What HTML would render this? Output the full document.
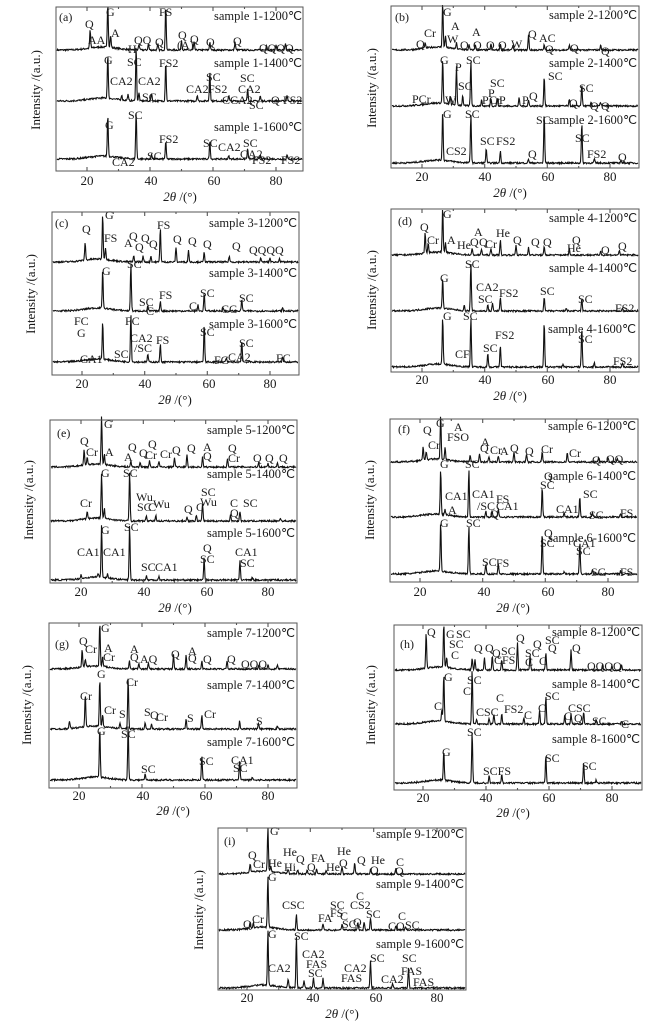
<!DOCTYPE html>
<html><head><meta charset="utf-8"><style>
html,body{margin:0;padding:0;background:#fff;}
svg{display:block;font-family:"Liberation Serif",serif;}
text{fill:#1a1a1a;font-size:12px;}
.s{text-anchor:end;font-size:12.5px;}
.t{text-anchor:middle;font-size:13px;}
.y{text-anchor:middle;font-size:13px;font-family:"Liberation Serif",serif;}
</style></head><body>
<svg id="f" width="651" height="1028" viewBox="0 0 651 1028" xmlns="http://www.w3.org/2000/svg">
<g id="traces" fill="none" stroke="#111" stroke-width="1.1"></g>
<g fill="none" stroke="#555" stroke-width="1">
<rect x="56" y="7" width="247" height="164"/>
<rect x="391" y="6" width="248" height="162"/>
<rect x="52" y="212" width="247" height="163"/>
<rect x="391" y="209" width="248" height="163"/>
<rect x="50" y="420" width="247" height="163"/>
<rect x="390" y="419" width="248" height="163"/>
<rect x="49" y="623" width="248" height="165"/>
<rect x="394" y="625" width="248" height="165"/>
<rect x="218" y="828" width="248" height="162"/>
</g>
<text class="t" x="87" y="185">20</text><text class="t" x="151" y="185">40</text><text class="t" x="214" y="185">60</text><text class="t" x="276" y="185">80</text>
<text class="t" x="180" y="201"><tspan font-style="italic">2θ</tspan> /(°)</text>
<text class="y" transform="translate(40,90) rotate(-90)">Intensity /(a.u.)</text>
<text class="t" x="422" y="181">20</text><text class="t" x="485" y="181">40</text><text class="t" x="548" y="181">60</text><text class="t" x="610" y="181">80</text>
<text class="t" x="510" y="197"><tspan font-style="italic">2θ</tspan> /(°)</text>
<text class="y" transform="translate(376,88) rotate(-90)">Intensity /(a.u.)</text>
<text class="t" x="82" y="388">20</text><text class="t" x="145" y="388">40</text><text class="t" x="209" y="388">60</text><text class="t" x="270" y="388">80</text>
<text class="t" x="175" y="404"><tspan font-style="italic">2θ</tspan> /(°)</text>
<text class="y" transform="translate(35,294) rotate(-90)">Intensity /(a.u.)</text>
<text class="t" x="422" y="384">20</text><text class="t" x="485" y="384">40</text><text class="t" x="548" y="384">60</text><text class="t" x="610" y="384">80</text>
<text class="t" x="510" y="400"><tspan font-style="italic">2θ</tspan> /(°)</text>
<text class="y" transform="translate(376,290) rotate(-90)">Intensity /(a.u.)</text>
<text class="t" x="81" y="596">20</text><text class="t" x="144" y="596">40</text><text class="t" x="207" y="596">60</text><text class="t" x="268" y="596">80</text>
<text class="t" x="175" y="612"><tspan font-style="italic">2θ</tspan> /(°)</text>
<text class="y" transform="translate(33,500) rotate(-90)">Intensity /(a.u.)</text>
<text class="t" x="420" y="596">20</text><text class="t" x="484" y="596">40</text><text class="t" x="548" y="596">60</text><text class="t" x="608" y="596">80</text>
<text class="t" x="513" y="612"><tspan font-style="italic">2θ</tspan> /(°)</text>
<text class="y" transform="translate(374,500) rotate(-90)">Intensity /(a.u.)</text>
<text class="t" x="79" y="800">20</text><text class="t" x="143" y="800">40</text><text class="t" x="206" y="800">60</text><text class="t" x="268" y="800">80</text>
<text class="t" x="173" y="815"><tspan font-style="italic">2θ</tspan> /(°)</text>
<text class="y" transform="translate(31,705) rotate(-90)">Intensity /(a.u.)</text>
<text class="t" x="423" y="802">20</text><text class="t" x="486" y="802">40</text><text class="t" x="549" y="802">60</text><text class="t" x="612" y="802">80</text>
<text class="t" x="513" y="817"><tspan font-style="italic">2θ</tspan> /(°)</text>
<text class="y" transform="translate(375,705) rotate(-90)">Intensity /(a.u.)</text>
<text class="t" x="247" y="1002">20</text><text class="t" x="313" y="1002">40</text><text class="t" x="376" y="1002">60</text><text class="t" x="437" y="1002">80</text>
<text class="t" x="342" y="1018"><tspan font-style="italic">2θ</tspan> /(°)</text>
<text class="y" transform="translate(203,910) rotate(-90)">Intensity /(a.u.)</text>

<text x="59" y="21">(a)</text><text x="106" y="16">G</text><text x="159" y="16">FS</text>
<text class="s" x="302" y="20">sample 1-1200℃</text>
<text x="85" y="28">Q</text><text x="88" y="44">AA</text><text x="111" y="37">A</text><text x="128" y="53">H</text><text x="134" y="44">QQ</text><text x="155" y="46">Q</text><text x="178" y="39">Q</text><text x="177" y="49">(A)</text><text x="190" y="43">Q</text><text x="206" y="46">Q</text><text x="233" y="45">Q</text><text x="259" y="52">QQQQ</text>
<text x="104" y="64">G</text><text x="127" y="66">SC</text><text x="159" y="67">FS2</text>
<text class="s" x="302" y="67">sample 1-1400℃</text>
<text x="110" y="85">CA2</text><text x="138" y="85">CA2</text><text x="142" y="101">SC</text><text x="206" y="81">SC</text><text x="186" y="93">CA2</text><text x="208" y="93">FS2</text><text x="240" y="82">SC</text><text x="238" y="93">CA2</text><text x="222" y="104">C</text><text x="230" y="104">CA2</text><text x="249" y="109">SC</text><text x="271" y="104">Q</text><text x="283" y="104">FS2</text>
<text x="128" y="119">SC</text><text x="105" y="129">G</text>
<text class="s" x="302" y="131">sample 1-1600℃</text>
<text x="159" y="143">FS2</text><text x="203" y="147">SC</text><text x="218" y="151">CA2</text><text x="243" y="147">SC</text><text x="240" y="158">CA2</text><text x="252" y="164">FS2</text><text x="281" y="164">FS2</text><text x="147" y="160">SC</text><text x="112" y="166">CA2</text>

<text x="395" y="21">(b)</text><text x="443" y="16">G</text>
<text class="s" x="637" y="19">sample 2-1200℃</text>
<text x="424" y="37">Cr</text><text x="451" y="30">A</text><text x="447" y="43">W</text><text x="472" y="36">A</text><text x="416" y="48">Q</text><text x="460" y="49">Q</text><text x="473" y="49">Q</text><text x="486" y="49">Q</text><text x="498" y="49">Q</text><text x="511" y="48">W</text><text x="528" y="38">Q</text><text x="539" y="42">AC</text><text x="545" y="53">Q</text><text x="570" y="52">Q</text><text x="601" y="55">Q</text>
<text x="440" y="64">G</text><text x="466" y="64">SC</text>
<text class="s" x="637" y="67">sample 2-1400℃</text>
<text x="455" y="71">P</text><text x="458" y="90">SC</text><text x="490" y="87">SC</text><text x="548" y="80">SC</text><text x="579" y="92">SC</text><text x="412" y="103">PCr</text><text x="445" y="104">W</text><text x="482" y="104">P</text><text x="488" y="97">P</text><text x="489" y="104">Cr</text><text x="499" y="104">P</text><text x="522" y="104">P</text><text x="529" y="100">Q</text><text x="569" y="107">Q</text><text x="590" y="110">Q</text><text x="601" y="110">Q</text>
<text x="443" y="118">G</text><text x="465" y="118">SC</text>
<text x="536" y="124">SC</text><text class="s" x="637" y="124">sample 2-1600℃</text>
<text x="480" y="145">SC</text><text x="496" y="145">FS2</text><text x="446" y="155">CS2</text><text x="528" y="158">Q</text><text x="575" y="142">SC</text><text x="587" y="158">FS2</text><text x="618" y="161">Q</text>

<text x="55" y="227">(c)</text><text x="105" y="219">G</text>
<text class="s" x="297" y="227">sample 3-1200℃</text>
<text x="82" y="233">Q</text><text x="104" y="242">FS</text><text x="157" y="229">FS</text><text x="124" y="247">A</text><text x="129" y="240">Q</text><text x="141" y="242">Q</text><text x="135" y="251">Q</text><text x="149" y="248">Q</text><text x="173" y="243">Q</text><text x="188" y="245">Q</text><text x="203" y="248">Q</text><text x="232" y="250">Q</text><text x="249" y="254">QQQQ</text>
<text x="102" y="275">G</text><text x="127" y="268">SC</text>
<text class="s" x="297" y="277">sample 3-1400℃</text>
<text x="139" y="306">SC</text><text x="146" y="315">C</text><text x="159" y="299">FS</text><text x="189" y="310">C</text><text x="200" y="297">SC</text><text x="221" y="313">CC</text><text x="239" y="302">SC</text>
<text x="74" y="325">FC</text><text x="77" y="337">G</text><text x="125" y="325">FC</text>
<text class="s" x="297" y="328">sample 3-1600℃</text>
<text x="130" y="342">CA2</text><text x="134" y="352">/SC</text><text x="156" y="344">FS</text><text x="200" y="336">SC</text><text x="239" y="347">SC</text><text x="228" y="361">CA2</text><text x="214" y="364">FC</text><text x="276" y="362">FC</text><text x="114" y="358">SC</text><text x="80" y="363">CA1</text>

<text x="398" y="225">(d)</text><text x="443" y="218">G</text>
<text class="s" x="637" y="222">sample 4-1200℃</text>
<text x="420" y="231">Q</text><text x="427" y="244">Cr</text><text x="447" y="244">A</text><text x="457" y="249">He</text><text x="474" y="236">A</text><text x="470" y="246">Q</text><text x="479" y="246">Q</text><text x="485" y="248">Cr</text><text x="496" y="237">He</text><text x="513" y="244">Q</text><text x="531" y="246">Q</text><text x="543" y="246">Q</text><text x="572" y="244">Q</text><text x="567" y="252">He</text><text x="601" y="254">Q</text><text x="618" y="250">Q</text>
<text x="465" y="268">SC</text><text class="s" x="637" y="272">sample 4-1400℃</text>
<text x="440" y="282">G</text><text x="476" y="291">CA2</text><text x="499" y="297">FS2</text><text x="478" y="303">SC</text><text x="540" y="295">SC</text><text x="578" y="303">SC</text><text x="615" y="312">FS2</text>
<text x="443" y="320">G</text><text x="463" y="320">SC</text>
<text class="s" x="636" y="333">sample 4-1600℃</text>
<text x="495" y="339">FS2</text><text x="578" y="343">SC</text><text x="483" y="352">SC</text><text x="455" y="358">CF</text><text x="613" y="365">FS2</text>

<text x="57" y="437">(e)</text><text x="104" y="428">G</text>
<text class="s" x="295" y="434">sample 5-1200℃</text>
<text x="80" y="445">Q</text><text x="86" y="456">Cr</text><text x="105" y="456">A</text><text x="124" y="461">A</text><text x="128" y="451">Q</text><text x="139" y="457">Q</text><text x="148" y="448">Q</text><text x="145" y="459">Cr</text><text x="160" y="458">Cr</text><text x="172" y="454">Q</text><text x="187" y="452">Q</text><text x="203" y="451">A</text><text x="203" y="460">Q</text><text x="228" y="452">Q</text><text x="228" y="462">Cr</text><text x="253" y="462">Q</text><text x="265" y="462">Q</text><text x="279" y="462">Q</text>
<text x="101" y="477">G</text><text x="123" y="477">SC</text>
<text class="s" x="295" y="478">sample 5-1400℃</text>
<text x="80" y="507">Cr</text><text x="136" y="501">Wu</text><text x="137" y="511">SC</text><text x="153" y="508">Wu</text><text x="148" y="511">C</text><text x="184" y="513">Q</text><text x="196" y="511">C</text><text x="201" y="496">SC</text><text x="200" y="506">Wu</text><text x="230" y="507">C</text><text x="230" y="517">Q</text><text x="243" y="507">SC</text>
<text x="101" y="534">G</text><text x="124" y="531">SC</text>
<text class="s" x="295" y="537">sample 5-1600℃</text>
<text x="77" y="556">CA1</text><text x="103" y="556">CA1</text><text x="203" y="552">Q</text><text x="200" y="563">SC</text><text x="235" y="556">CA1</text><text x="240" y="567">SC</text><text x="141" y="571">SC</text><text x="155" y="571">CA1</text>

<text x="398" y="433">(f)</text><text x="436" y="427">G</text>
<text class="s" x="636" y="430">sample 6-1200℃</text>
<text x="423" y="434">Q</text><text x="428" y="449">Cr</text><text x="454" y="431">A</text><text x="447" y="441">FSO</text><text x="481" y="446">A</text><text x="480" y="452">Q</text><text x="490" y="454">Cr</text><text x="500" y="455">A</text><text x="510" y="452">Q</text><text x="525" y="455">Q</text><text x="541" y="453">Cr</text><text x="569" y="457">Cr</text><text x="592" y="464">Q</text><text x="606" y="463">QQ</text>
<text x="440" y="468">G</text><text x="465" y="468">SC</text><text x="544" y="480">Q</text>
<text class="s" x="636" y="480">sample 6-1400℃</text>
<text x="540" y="489">SC</text><text x="445" y="500">CA1</text><text x="472" y="498">CA1</text><text x="496" y="503">FS</text><text x="477" y="510">/SC</text><text x="496" y="510">CA1</text><text x="448" y="514">A</text><text x="490" y="518">Q</text><text x="583" y="498">SC</text><text x="556" y="513">CA1</text><text x="589" y="519">SC</text><text x="620" y="517">FS</text>
<text x="440" y="527">G</text><text x="466" y="527">SC</text><text x="544" y="537">Q</text>
<text class="s" x="636" y="542">sample 6-1600℃</text>
<text x="540" y="547">SC</text><text x="573" y="547">CA1</text><text x="576" y="555">SC</text><text x="482" y="566">SC</text><text x="496" y="567">FS</text><text x="591" y="576">SC</text><text x="620" y="576">FS</text>

<text x="55" y="648">(g)</text><text x="101" y="632">G</text>
<text class="s" x="295" y="637">sample 7-1200℃</text>
<text x="79" y="645">Q</text><text x="85" y="653">Cr</text><text x="104" y="652">A</text><text x="103" y="661">Cr</text><text x="130" y="653">A</text><text x="130" y="661">Q</text><text x="140" y="663">AQ</text><text x="171" y="658">Q</text><text x="188" y="655">A</text><text x="188" y="662">Q</text><text x="203" y="663">Q</text><text x="227" y="663">Q</text><text x="241" y="668">QQQ</text>
<text x="97" y="678">G</text><text x="126" y="686">Cr</text>
<text class="s" x="295" y="689">sample 7-1400℃</text>
<text x="80" y="700">Cr</text><text x="104" y="714">Cr</text><text x="119" y="718">S</text><text x="144" y="716">S</text><text x="150" y="719">Q</text><text x="156" y="721">Cr</text><text x="187" y="722">S</text><text x="204" y="718">Cr</text><text x="256" y="725">S</text>
<text x="97" y="735">G</text><text x="121" y="738">SC</text>
<text class="s" x="295" y="746">sample 7-1600℃</text>
<text x="199" y="765">SC</text><text x="231" y="764">CA1</text><text x="233" y="772">SC</text><text x="141" y="773">SC</text>

<text x="400" y="648">(h)</text><text x="427" y="636">Q</text><text x="446" y="638">G</text><text x="456" y="638">SC</text>
<text class="s" x="640" y="636">sample 8-1200℃</text>
<text x="449" y="648">SC</text><text x="451" y="659">C</text><text x="474" y="652">Q</text><text x="485" y="652">Q</text><text x="492" y="657">Q</text><text x="501" y="655">SC</text><text x="494" y="664">CFS</text><text x="516" y="642">Q</text><text x="533" y="648">Q</text><text x="545" y="644">SC</text><text x="525" y="657">SC</text><text x="525" y="666">C</text><text x="539" y="665">C</text><text x="548" y="652">Q</text><text x="572" y="652">Q</text><text x="587" y="670">QQQQ</text>
<text x="444" y="681">G</text><text x="467" y="684">SC</text>
<text class="s" x="640" y="688">sample 8-1400℃</text>
<text x="463" y="695">C</text><text x="434" y="710">C</text><text x="476" y="716">CSC</text><text x="496" y="702">C</text><text x="504" y="713">FS2</text><text x="545" y="700">SC</text><text x="538" y="712">C</text><text x="524" y="719">C</text><text x="568" y="712">CSC</text><text x="564" y="720">C</text><text x="574" y="722">Q</text><text x="592" y="725">SC</text><text x="621" y="728">C</text>
<text x="467" y="736">SC</text>
<text class="s" x="640" y="743">sample 8-1600℃</text>
<text x="442" y="756">G</text><text x="545" y="762">SC</text><text x="483" y="775">SCFS</text><text x="582" y="770">SC</text>

<text x="224" y="845">(i)</text><text x="270" y="835">G</text>
<text class="s" x="464" y="838">sample 9-1200℃</text>
<text x="248" y="859">Q</text><text x="253" y="868">Cr</text><text x="268" y="867">He</text><text x="283" y="856">He</text><text x="284" y="871">Hi</text><text x="296" y="863">Q</text><text x="307" y="871">Q</text><text x="311" y="862">FA</text><text x="326" y="871">He</text><text x="337" y="855">He</text><text x="339" y="867">Q</text><text x="357" y="864">Q</text><text x="371" y="864">He</text><text x="370" y="874">Q</text><text x="396" y="866">C</text><text x="395" y="875">Q</text>
<text x="268" y="881">G</text>
<text class="s" x="464" y="888">sample 9-1400℃</text>
<text x="282" y="909">CSC</text><text x="330" y="909">SC</text><text x="330" y="917">FS</text><text x="356" y="900">C</text><text x="350" y="909">CS2</text><text x="340" y="920">C</text><text x="366" y="918">SC</text><text x="318" y="922">FA</text><text x="342" y="928">SC</text><text x="353" y="926">Q</text><text x="243" y="928">Q</text><text x="252" y="923">Cr</text><text x="398" y="920">C</text><text x="388" y="930">CO</text><text x="405" y="929">SC</text>
<text x="268" y="938">G</text><text x="294" y="940">SC</text>
<text class="s" x="464" y="948">sample 9-1600℃</text>
<text x="302" y="958">CA2</text><text x="306" y="968">FAS</text><text x="268" y="972">CA2</text><text x="308" y="977">SC</text><text x="370" y="962">SC</text><text x="344" y="972">CA2</text><text x="341" y="982">FAS</text><text x="402" y="962">SC</text><text x="401" y="975">FAS</text><text x="381" y="983">CA2</text><text x="413" y="986">FAS</text>
</svg>
<script>
var P=[
{x:56,y:7,w:247,h:164,t20:87,t80:276,tr:[
[50,[[21,18],[26.6,45],[27.5,12],[36.5,6],[39.5,6],[42.5,6],[45,45],[50,10],[54,8],[59,8],[67,8],[77,5],[80,5],[83,6]]],
[101,[[26.6,45],[35.6,55],[31,5],[33,6],[36.5,8],[40.5,8],[45,40],[59,30],[55,6],[65,6],[71,12],[75,5],[83.5,6]]],
[159,[[26.6,42],[35.6,48],[40.5,5],[45,18],[59,18],[65,3],[71,10],[75,4],[83.5,4]]]]},
{x:391,y:6,w:248,h:162,t20:422,t80:610,tr:[
[50,[[21,5],[26.6,45],[27.5,12],[31,6],[35,5],[37,6],[42,6],[45,6],[49,5],[54,15],[59,5],[67,5],[77,5]]],
[106,[[26.6,45],[31,38],[35.6,45],[33,10],[29,8],[39,6],[42,8],[44,8],[51,8],[54,6],[59,30],[67,6],[71,22],[74,4],[77,4]]],
[163,[[26.6,50],[35.6,50],[40.5,15],[45,12],[54,4],[59,50],[71,40],[75,4],[83.5,3]]]]},
{x:52,y:212,w:247,h:163,t20:82,t80:270,tr:[
[262,[[21,18],[26.6,45],[27.5,12],[36.5,6],[39.5,6],[42,6],[45,35],[50,15],[54,12],[59,10],[67,6],[77,4],[80,4],[83,4]]],
[311,[[26.6,38],[35.6,48],[41,5],[45,10],[57,6],[59,18],[65,4],[71,12],[84,3]]],
[362,[[26.6,38],[35.6,48],[41,8],[45,18],[59,38],[66,4],[71,22],[84,5]]]]},
{x:391,y:209,w:248,h:163,t20:422,t80:610,tr:[
[255,[[21,20],[22,10],[26.6,45],[27.5,10],[36,6],[39,6],[42,6],[45,15],[50,10],[54,8],[59,8],[67,6],[77,4],[83,5]]],
[311,[[26.6,30],[35.6,48],[33.5,5],[41,6],[42.5,8],[45,14],[59,14],[66,3],[71,12],[84,3]]],
[367,[[26.6,48],[35.6,50],[41,14],[45,22],[59,45],[65,3],[71,40],[75,4],[84,4]]]]},
{x:50,y:420,w:247,h:163,t20:81,t80:268,tr:[
[467,[[21,15],[22,8],[26.6,48],[27.5,10],[36,6],[39,5],[42,6],[45,6],[50,10],[54,12],[59,10],[67,8],[77,4],[80,4],[83,4]]],
[521,[[22,8],[26.6,45],[27.5,10],[35.6,50],[41,5],[44,6],[54,4],[57,6],[59,18],[68,6],[71,10],[84,3]]],
[580,[[20,4],[25.5,4],[26.6,52],[28.5,4],[35.6,55],[41,4],[45,4],[59.5,22],[71,20],[75,3]]]]},
{x:390,y:419,w:248,h:163,t20:420,t80:608,tr:[
[462,[[21,14],[22,8],[26.6,45],[28,12],[36,6],[39,8],[42,6],[45,6],[50,10],[54,8],[59,10],[67,10],[77,4],[80,4],[83,4]]],
[517,[[26.6,45],[28,5],[35.6,48],[41,6],[43,6],[45,8],[59,30],[66,4],[71,20],[75,4],[84,3]]],
[574,[[26.6,50],[35.6,48],[41,10],[45,10],[59,42],[66,3],[71,32],[75,4],[84,3]]]]},
{x:49,y:623,w:248,h:165,t20:79,t80:268,tr:[
[669,[[21,18],[22,8],[26.6,45],[27.5,10],[36,8],[39,6],[42,6],[50,14],[54,14],[59,8],[67,8],[77,4],[80,4],[83,4]]],
[729,[[17,8],[22,32],[26.6,48],[27.5,12],[33,6],[35.6,52],[41,6],[43,5],[54,10],[59,14],[71,8],[77,6],[83,3]]],
[780,[[26.6,50],[35.6,55],[41,6],[59,25],[71,20],[75,3]]]]},
{x:394,y:625,w:248,h:165,t20:423,t80:612,tr:[
[670,[[21,35],[26.6,45],[27.5,10],[35.6,12],[36.5,10],[39.5,12],[42,14],[45,10],[50,28],[54,15],[59,18],[67,20],[77,5],[80,5],[83,5]]],
[724,[[26,12],[26.6,48],[35.6,55],[37,5],[41,6],[42.5,10],[45,10],[52,6],[57,14],[59,28],[65,8],[67,10],[71,12],[75,4],[83,3]]],
[783,[[26.6,30],[35.6,52],[41,7],[45,8],[59,28],[71,20],[75,3]]]]},
{x:218,y:828,w:248,h:162,t20:247,t80:437,tr:[
[874,[[21,8],[26.6,45],[27.5,5],[33,4],[36,4],[39,4],[42,5],[45,4],[50,8],[54,12],[59,5],[67,6]]],
[930,[[21,6],[22,5],[26.6,52],[35.6,15],[44,6],[50,6],[55,8],[57,8],[59,12],[67,4],[70,4]]],
[988,[[26.6,55],[35.6,52],[33,8],[38,8],[41,10],[44,10],[59,28],[71,20],[66,4]]]]}
];
var seed=7;function rnd(){seed=(seed*16807)%2147483647;return seed/2147483647;}
var g=document.getElementById('traces'),out='';
P.forEach(function(p){
 var k=(p.t80-p.t20)/60;
 p.tr.forEach(function(t){
  var d='';
  for(var X=p.x+1;X<=p.x+p.w-1;X+=0.5){
   var deg=20+(X-p.t20)/k,y=t[0];
   t[1].forEach(function(pk){var z=(deg-pk[0])/0.22;y-=pk[1]*Math.exp(-z*z);});
   y-=3*Math.exp(-Math.pow((deg-25)/6,2));
   y-=(rnd()-0.5)*1.6;
   d+=(d?'L':'M')+X.toFixed(1)+' '+y.toFixed(1);
  }
  out+='<path d="'+d+'"/>';
 });
 for(var deg=10;deg<=90;deg+=10){var X=p.t20+(deg-20)*k;if(X<p.x||X>p.x+p.w)continue;
  var L=(deg%20==0)?4:2;var b=p.y+p.h;
  out+='<path stroke="#555" d="M'+X.toFixed(1)+' '+b+'v'+(-L)+'M'+X.toFixed(1)+' '+p.y+'v'+L+'"/>';}
});
g.innerHTML=out;
</script>
</body></html>
